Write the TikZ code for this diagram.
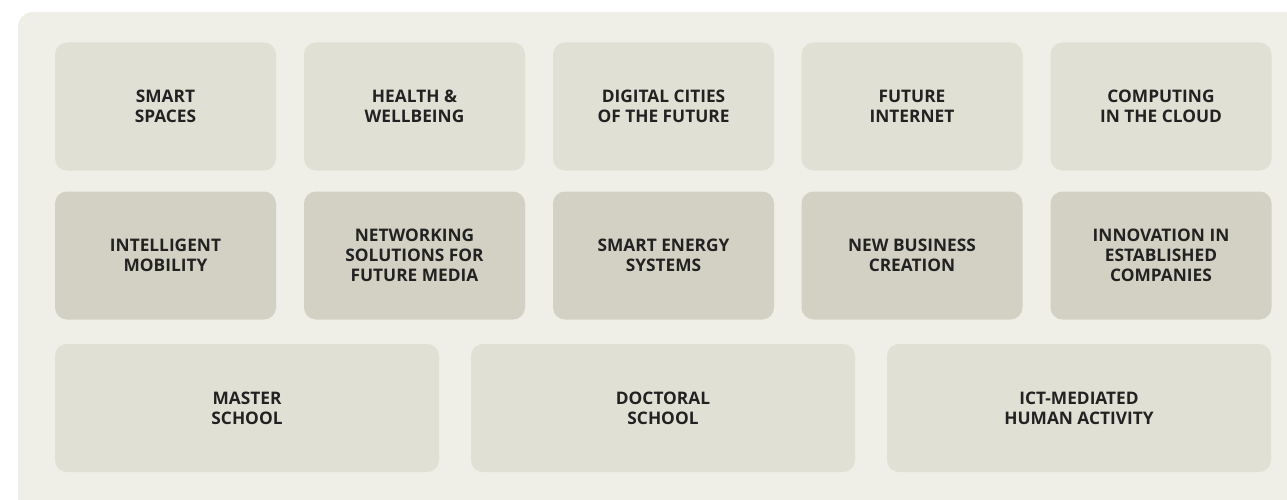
\documentclass[tikz,border=0pt]{standalone}
\usepackage{fontspec}
\setmainfont{Open Sans}[BoldFont={Open Sans Bold}]
\definecolor{panel}{HTML}{EFEEE7}
\definecolor{light}{HTML}{E1E0D5}
\definecolor{dark}{HTML}{D3D1C3}
\definecolor{ink}{HTML}{222222}
\begin{document}
\begin{tikzpicture}[x=1pt,y=-1pt,
    tile/.style={rounded corners=12pt, minimum width=221pt, minimum height=128pt,
      align=center, text=ink, inner sep=0pt,
      font=\bfseries\fontsize{17.3}{20.3}\selectfont},
    wide/.style={tile, minimum width=384pt},
  ]
  \useasboundingbox (0,0) rectangle (1287,500);
  \fill[panel, rounded corners=15pt] (18,12) rectangle (1320,530);
  \node[tile, fill=light] (spaces) at (165.5,106.5) {SMART\\SPACES};
  \node[tile, fill=light] (health) at (414.5,106.5) {HEALTH \&\\WELLBEING};
  \node[tile, fill=light] (cities) at (663.5,106.5) {DIGITAL CITIES\\OF THE FUTURE};
  \node[tile, fill=light] (internet) at (912,106.5) {FUTURE\\INTERNET};
  \node[tile, fill=light] (cloud) at (1161,106.5) {COMPUTING\\IN THE CLOUD};
  \node[tile, fill=dark] (mobility) at (165.5,255.5) {INTELLIGENT\\MOBILITY};
  \node[tile, fill=dark] (media) at (414.5,255.5) {NETWORKING\\SOLUTIONS FOR\\FUTURE MEDIA};
  \node[tile, fill=dark] (energy) at (663.5,255.5) {SMART ENERGY\\SYSTEMS};
  \node[tile, fill=dark] (business) at (912,255.5) {NEW BUSINESS\\CREATION};
  \node[tile, fill=dark] (innovation) at (1161,255.5) {INNOVATION IN\\ESTABLISHED\\COMPANIES};
  \node[wide, fill=light] (master) at (247,408) {MASTER\\SCHOOL};
  \node[wide, fill=light] (doctoral) at (663,408) {DOCTORAL\\SCHOOL};
  \node[wide, fill=light] (activity) at (1079,408) {ICT-MEDIATED\\HUMAN ACTIVITY};
\end{tikzpicture}
\end{document}
